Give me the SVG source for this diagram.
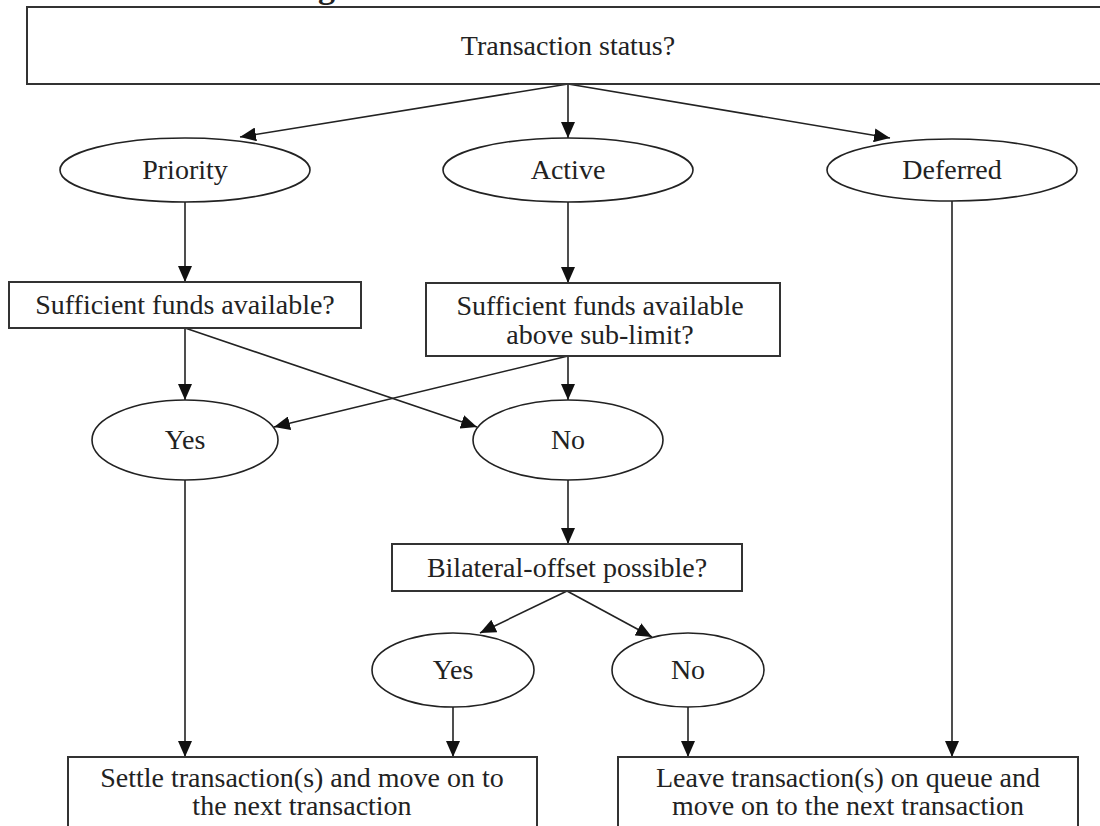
<svg xmlns="http://www.w3.org/2000/svg" width="1100" height="826" viewBox="0 0 1100 826">
<style>
.box{fill:#fff;stroke:#333;stroke-width:2}
.ell{fill:#fff;stroke:#222;stroke-width:1.6}
.t{font-family:"Liberation Serif","Times New Roman",serif;font-size:28px;fill:#222;text-anchor:middle}
.c{stroke:#222;stroke-width:1.6;fill:none;marker-end:url(#ah)}
</style>
<defs>
<marker id="ah" markerUnits="userSpaceOnUse" markerWidth="16" markerHeight="14" viewBox="0 0 16 14" refX="16" refY="7" orient="auto">
<path d="M0,0 L16,7 L0,14 Z" fill="#111"/>
</marker>
</defs>
<rect width="1100" height="826" fill="#fff"/>
<text x="318" y="-2" style="font-family:'Liberation Serif',serif;font-size:34px;font-weight:bold;fill:#222">g</text>

<g id="connectors">
<line class="c" x1="568" y1="84" x2="240" y2="137"/>
<line class="c" x1="568" y1="84" x2="568" y2="138"/>
<line class="c" x1="568" y1="84" x2="890" y2="138"/>
<line class="c" x1="185" y1="201" x2="185" y2="282"/>
<line class="c" x1="568" y1="201" x2="568" y2="283"/>
<line class="c" x1="185" y1="328" x2="185" y2="400"/>
<line class="c" x1="185" y1="328" x2="477" y2="427"/>
<line class="c" x1="568" y1="356" x2="274" y2="427"/>
<line class="c" x1="568" y1="356" x2="568" y2="400"/>
<line class="c" x1="568" y1="480" x2="568" y2="544"/>
<line class="c" x1="567" y1="591" x2="480" y2="633"/>
<line class="c" x1="567" y1="591" x2="652" y2="637"/>
<line class="c" x1="185" y1="480" x2="185" y2="757"/>
<line class="c" x1="453" y1="706" x2="453" y2="757"/>
<line class="c" x1="688" y1="706" x2="688" y2="757"/>
<line class="c" x1="952" y1="201" x2="952" y2="757"/>
</g>

<g id="status">
<rect class="box" x="27" y="7" width="1090" height="77"/>
<text class="t" x="568" y="55">Transaction status?</text>
</g>
<g id="priority">
<ellipse class="ell" cx="185" cy="170" rx="125" ry="32"/>
<text class="t" x="185" y="179">Priority</text>
</g>
<g id="active">
<ellipse class="ell" cx="568" cy="170" rx="125" ry="32"/>
<text class="t" x="568" y="179">Active</text>
</g>
<g id="deferred">
<ellipse class="ell" cx="952" cy="170" rx="125" ry="31"/>
<text class="t" x="952" y="179">Deferred</text>
</g>
<g id="funds1">
<rect class="box" x="9" y="282" width="352" height="46"/>
<text class="t" x="185" y="314">Sufficient funds available?</text>
</g>
<g id="funds2">
<rect class="box" x="426" y="283" width="354" height="73"/>
<text class="t" x="600" y="315">Sufficient funds available</text>
<text class="t" x="600" y="344">above sub-limit?</text>
</g>
<g id="yes1">
<ellipse class="ell" cx="185" cy="440" rx="93" ry="40"/>
<text class="t" x="185" y="449">Yes</text>
</g>
<g id="no1">
<ellipse class="ell" cx="568" cy="440" rx="95" ry="40"/>
<text class="t" x="568" y="449">No</text>
</g>
<g id="bilateral">
<rect class="box" x="392" y="544" width="350" height="47"/>
<text class="t" x="567" y="577">Bilateral-offset possible?</text>
</g>
<g id="yes2">
<ellipse class="ell" cx="453" cy="670" rx="81" ry="37"/>
<text class="t" x="453" y="679">Yes</text>
</g>
<g id="no2">
<ellipse class="ell" cx="688" cy="670" rx="76" ry="37"/>
<text class="t" x="688" y="679">No</text>
</g>
<g id="settle">
<rect class="box" x="68" y="757" width="469" height="90"/>
<text class="t" x="302" y="787">Settle transaction(s) and move on to</text>
<text class="t" x="302" y="815">the next transaction</text>
</g>
<g id="leave">
<rect class="box" x="618" y="757" width="460" height="90"/>
<text class="t" x="848" y="787">Leave transaction(s) on queue and</text>
<text class="t" x="848" y="815">move on to the next transaction</text>
</g>
</svg>
